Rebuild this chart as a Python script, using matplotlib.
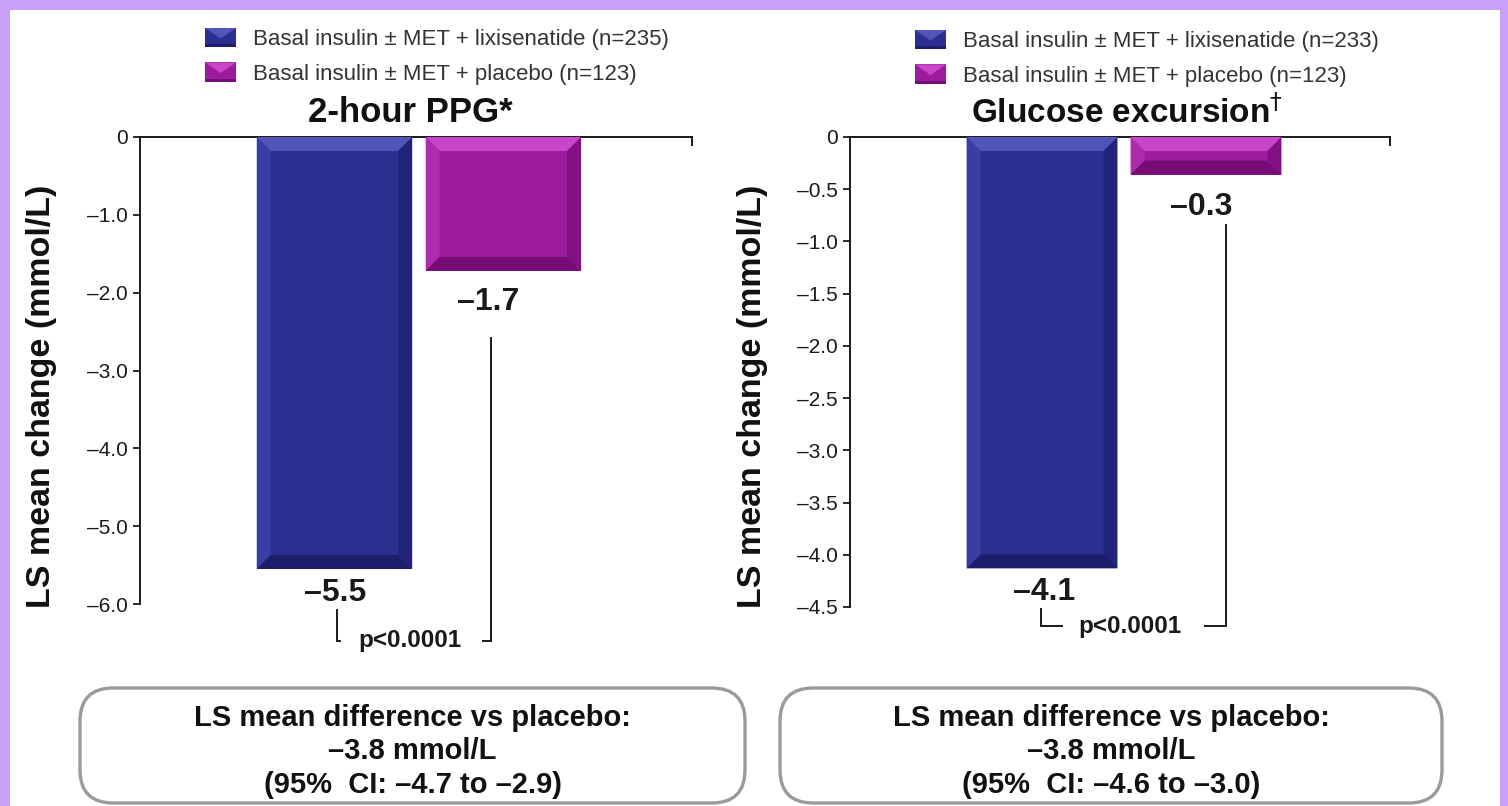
import matplotlib
matplotlib.use("Agg")
import matplotlib.pyplot as plt
from matplotlib.patches import Polygon, Rectangle, FancyBboxPatch
from matplotlib.legend_handler import HandlerBase

plt.rcParams['font.family'] = ['Liberation Sans', 'DejaVu Sans']

# ---------------- data ----------------
groups = ['Basal insulin \u00b1 MET + lixisenatide', 'Basal insulin \u00b1 MET + placebo']
ppg_n = [235, 123]
exc_n = [233, 123]

ppg_values = [-5.55, -1.72]
ppg_labels = ['\u20135.5', '\u20131.7']
exc_values = [-4.13, -0.36]
exc_labels = ['\u20134.1', '\u20130.3']

ppg_ticks = [0, -1, -2, -3, -4, -5, -6]
ppg_ticklabels = ['0', '\u20131.0', '\u20132.0', '\u20133.0', '\u20134.0', '\u20135.0', '\u20136.0']
exc_ticks = [0, -0.5, -1.0, -1.5, -2.0, -2.5, -3.0, -3.5, -4.0, -4.5]
exc_ticklabels = ['0', '\u20130.5', '\u20131.0', '\u20131.5', '\u20132.0', '\u20132.5',
                  '\u20133.0', '\u20133.5', '\u20134.0', '\u20134.5']

titles = ['2-hour PPG*', 'Glucose excursion$^{\u2020}$']
ylabel = 'LS mean change (mmol/L)'
pvalue = 'p<0.0001'
box_lines = [
    ['LS mean difference vs placebo:', '\u20133.8 mmol/L', '(95%  CI: \u20134.7 to \u20132.9)'],
    ['LS mean difference vs placebo:', '\u20133.8 mmol/L', '(95%  CI: \u20134.6 to \u20133.0)'],
]

# ---------------- style ----------------
W, H = 1508, 806
BLUE = dict(main='#2C2F90', top='#5154B8', left='#3A3DA4', right='#222479', bottom='#1C1E6C')
MAG = dict(main='#9D1B9D', top='#C846C8', left='#AE2AAE', right='#841184', bottom='#760C76')
INK = '#1a1a1a'

fig = plt.figure(figsize=(W / 100, H / 100), dpi=100)
fig.patch.set_facecolor('#C9A0F7')
fig.add_artist(Rectangle((10 / W, 0), (1500 - 10) / W, (H - 10) / H, transform=fig.transFigure,
                         facecolor='white', edgecolor='none', zorder=0))


def px_dx(ax, px):
    x0, x1 = ax.get_xlim()
    return px * (x1 - x0) / (ax.get_position().width * W)


def px_dy(ax, px):
    y0, y1 = ax.get_ylim()
    return px * (y1 - y0) / (ax.get_position().height * H)


def bevel_bar(ax, x, width, val, col, bevel_px=14):
    ax.bar([x], [val], width=width, color=col['main'], edgecolor='none', zorder=2)
    bx = px_dx(ax, bevel_px)
    by = px_dy(ax, bevel_px)
    x0, x1 = x - width / 2, x + width / 2
    y0, y1 = 0, val
    faces = [
        ([(x0, y0), (x1, y0), (x1 - bx, y0 - by), (x0 + bx, y0 - by)], col['top']),
        ([(x0, y0), (x0 + bx, y0 - by), (x0 + bx, y1 + by), (x0, y1)], col['left']),
        ([(x1, y0), (x1 - bx, y0 - by), (x1 - bx, y1 + by), (x1, y1)], col['right']),
        ([(x0, y1), (x1, y1), (x1 - bx, y1 + by), (x0 + bx, y1 + by)], col['bottom']),
    ]
    for pts, c in faces:
        ax.add_patch(Polygon(pts, closed=True, facecolor=c, edgecolor='none', zorder=3))


class BevelHandle:
    def __init__(self, col):
        self.col = col


class HandlerBevel(HandlerBase):
    def create_artists(self, legend, orig_handle, xdescent, ydescent, width, height,
                       fontsize, trans):
        c = orig_handle.col
        x0, y0 = -xdescent, -ydescent
        x1, y1 = x0 + width, y0 + height
        cx, cy = (x0 + x1) / 2, y0 + height * 0.45
        arts = [
            Rectangle((x0, y0), width, height, facecolor=c['main'], edgecolor='none'),
            Polygon([(x0, y1), (x1, y1), (cx, cy)], closed=True, facecolor=c['top'],
                    edgecolor='none'),
            Polygon([(x0, y0), (x1, y0), (x1, y0 + height * 0.15), (x0, y0 + height * 0.15)],
                    closed=True, facecolor=c['bottom'], edgecolor='none'),
        ]
        for a in arts:
            a.set_transform(trans)
        return arts


def setup_axes(rect, xlim, ylim, ticks, ticklabels):
    ax = fig.add_axes(rect)
    ax.set_xlim(*xlim)
    ax.set_ylim(*ylim)
    ax.set_facecolor('none')
    for s in ['bottom', 'right']:
        ax.spines[s].set_visible(False)
    for s in ['left', 'top']:
        ax.spines[s].set_linewidth(1.4)
        ax.spines[s].set_color(INK)
    ax.set_xticks([])
    ax.set_yticks(ticks)
    ax.set_yticklabels(ticklabels, fontsize=15, color=INK)
    ax.tick_params(axis='y', direction='out', length=5, width=1.3, color=INK, pad=4)
    ax.plot([1, 1], [1, 1 - 8 / (rect[3] * H)], transform=ax.transAxes, color=INK,
            lw=1.4, clip_on=False, zorder=5)
    return ax


xpos = [0, 1]
bar_w = 0.92

axL = setup_axes([140 / W, 1 - 604 / H, 552 / W, 467 / H], (-1.151, 2.116), (-6, 0),
                 ppg_ticks, ppg_ticklabels)
axR = setup_axes([850 / W, 1 - 607 / H, 540 / W, 470 / H], (-1.171, 2.122), (-4.5, 0),
                 exc_ticks, exc_ticklabels)

for ax, vals, labs, offs in [
    (axL, ppg_values, ppg_labels, [(1, -24), (-15, -31)]),
    (axR, exc_values, exc_labels, [(2, -24), (-5, -32)]),
]:
    for x, v, c in zip(xpos, vals, [BLUE, MAG]):
        bevel_bar(ax, x, bar_w, v, c)
    for x, v, lab, (ox, oy) in zip(xpos, vals, labs, offs):
        ax.annotate(lab, (x, v), xytext=(ox * 0.72, oy * 0.72), textcoords='offset points',
                    ha='center', va='center', fontsize=23, fontweight='bold', color=INK,
                    annotation_clip=False)


def bracket(ax, pts):
    xs = [p[0] for p in pts]
    ys = [p[1] for p in pts]
    ax.plot(xs, ys, color=INK, lw=1.4, clip_on=False, zorder=5, solid_joinstyle='miter')


# Left panel significance bracket
b, m = ppg_values
axL_low = b - px_dy(axL, 72)
bracket(axL, [(xpos[0] + px_dx(axL, 3), b - px_dy(axL, 41)), (xpos[0] + px_dx(axL, 3), axL_low),
              (xpos[0] + px_dx(axL, 6), axL_low)])
axL_r = xpos[1] - px_dx(axL, 12)
bracket(axL, [(axL_r, m - px_dy(axL, 67)), (axL_r, axL_low), (axL_r - px_dx(axL, 8), axL_low)])
axL.text((xpos[0] + xpos[1]) / 2 - px_dx(axL, 9), axL_low, pvalue, ha='center', va='center',
         fontsize=17.5, fontweight='bold', color=INK)

# Right panel significance bracket
b, m = exc_values
axR_low = b - px_dy(axR, 58)
bracket(axR, [(xpos[0] - px_dx(axR, 1), b - px_dy(axR, 41)), (xpos[0] - px_dx(axR, 1), axR_low),
              (xpos[0] + px_dx(axR, 20), axR_low)])
axR_r = xpos[1] + px_dx(axR, 20)
bracket(axR, [(axR_r, m - px_dy(axR, 50)), (axR_r, axR_low), (axR_r - px_dx(axR, 21), axR_low)])
axR.text((xpos[0] + xpos[1]) / 2 + px_dx(axR, 6), axR_low, pvalue, ha='center', va='center',
         fontsize=17.5, fontweight='bold', color=INK)

# titles
fig.text(410 / W, 1 - 113 / H, titles[0], ha='center', va='center', fontsize=25, fontweight='bold',
         color='#111')
fig.text(1127 / W, 1 - 113 / H, titles[1], ha='center', va='center', fontsize=24,
         fontweight='bold', color='#111')

# y labels
fig.text(42 / W, 1 - 396 / H, ylabel, rotation=90, ha='center', va='center', fontsize=24.5,
         fontweight='bold', color='#111')
fig.text(752 / W, 1 - 396 / H, ylabel, rotation=90, ha='center', va='center', fontsize=24.5,
         fontweight='bold', color='#111')

# legends
for ns, (lx, ly) in [(ppg_n, (205, 28)), (exc_n, (915, 30))]:
    handles = [BevelHandle(BLUE), BevelHandle(MAG)]
    labels = [f'{g} (n={n})' for g, n in zip(groups, ns)]
    fig.legend(handles, labels, loc='upper left', bbox_to_anchor=(lx / W, 1 - ly / H),
               frameon=False, fontsize=16, handlelength=1.4, handleheight=0.95,
               handletextpad=0.75, labelspacing=0.55, borderpad=0, borderaxespad=0,
               labelcolor='#333', handler_map={BevelHandle: HandlerBevel()})

# summary boxes
for (x0, x1), lines in zip([(80, 745), (780, 1442)], box_lines):
    fig.add_artist(FancyBboxPatch((x0 / W, 1 - 803 / H), (x1 - x0) / W, (803 - 688) / H,
                                  boxstyle='round,pad=0,rounding_size=0.022',
                                  transform=fig.transFigure, mutation_aspect=W / H,
                                  facecolor='white', edgecolor='#9a9a9a', linewidth=2.4))
    cx = (x0 + x1) / 2
    for yy, t in zip([718, 751, 785], lines):
        fig.text(cx / W, 1 - yy / H, t, ha='center', va='center', fontsize=21,
                 fontweight='bold', color='#111')

fig.savefig('out.png', dpi=100)
